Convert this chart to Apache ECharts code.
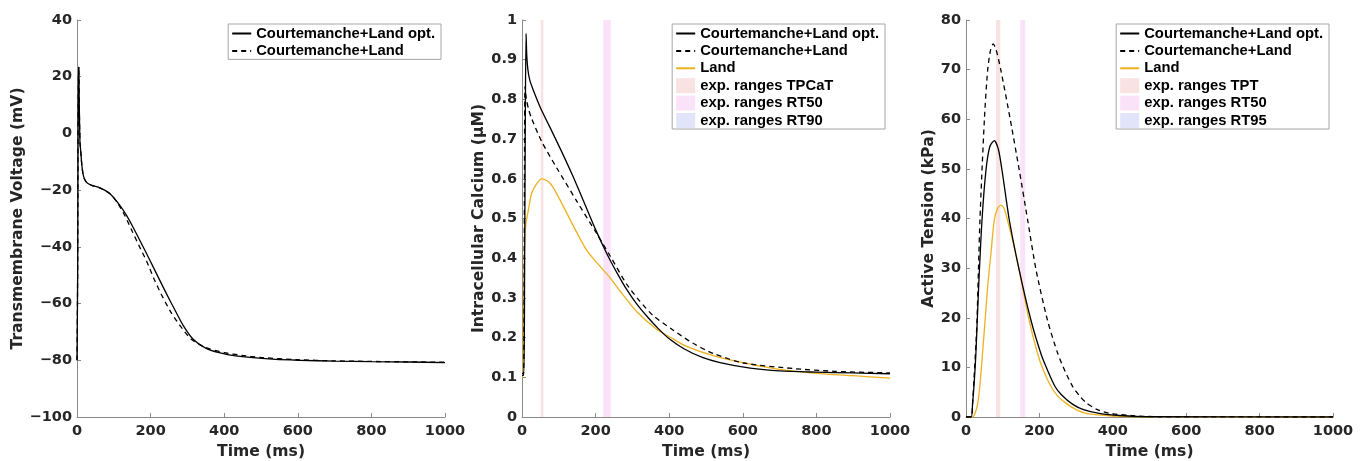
<!DOCTYPE html>
<html><head><meta charset="utf-8">
<script src="https://cdn.jsdelivr.net/npm/echarts@6/dist/echarts.min.js"></script>
<style>html,body{margin:0;padding:0;background:#fff;overflow:hidden}#c{width:1368px;height:461px}</style>
</head><body><div id="c"></div>
<script>
// ---------- Panel 1: Transmembrane voltage (mV) ----------
const vOptT = [0, 1, 2, 3, 4, 5, 6, 8, 10, 13, 16, 20, 27, 40, 62, 89, 116, 135, 152, 175, 198, 220, 243, 265, 288, 315, 352, 406, 470, 540, 606, 700, 800, 900, 1000];
const vOptV = [-80, -80, -45, 5, 20, 23.5, 12, -3, -6, -11, -14, -16, -17.4, -18.3, -19.2, -21.2, -25.3, -29, -33, -38.8, -44.7, -50.5, -56.5, -62, -67.6, -72.5, -75.9, -77.9, -79, -79.7, -80, -80.3, -80.5, -80.6, -80.8];
const vBaseT = [0, 1, 2, 3, 4, 5, 6, 8, 10, 13, 16, 20, 27, 40, 62, 89, 110, 130, 150, 170, 189, 210, 230, 255, 279, 310, 350, 400, 450, 500, 600, 700, 800, 1000];
const vBaseV = [-80, -80, -45, 5, 20, 23.5, 12, -3, -6, -11, -14, -16, -17.4, -18.3, -19.2, -21.2, -24.5, -29, -34.5, -40, -45, -51.5, -57, -63, -67.6, -72.5, -75.5, -77.3, -78.3, -79, -79.8, -80.2, -80.4, -80.7];

// ---------- Panel 2: Intracellular calcium (uM) ----------
const caOptT = [0, 5, 7, 9, 11, 13, 16, 21, 30, 51, 80, 110, 140, 170, 200, 234, 260, 284, 310, 343, 371, 400, 440, 490, 538, 620, 700, 800, 900, 1000];
const caOptV = [0.11, 0.11, 0.35, 0.75, 0.966, 0.91, 0.875, 0.849, 0.825, 0.777, 0.722, 0.664, 0.603, 0.538, 0.472, 0.405, 0.36, 0.322, 0.287, 0.25, 0.222, 0.197, 0.172, 0.15, 0.137, 0.123, 0.116, 0.113, 0.111, 0.109];
const caBaseT = [0, 4, 6, 8.2, 12, 18, 26, 54, 94, 148, 203, 240, 284, 320, 357, 412, 466, 520, 602, 738, 850, 1000];
const caBaseV = [0.105, 0.105, 0.4, 0.832, 0.8, 0.775, 0.752, 0.693, 0.628, 0.545, 0.462, 0.405, 0.335, 0.292, 0.255, 0.218, 0.185, 0.16, 0.136, 0.122, 0.115, 0.111];
const caLandT = [0, 2, 4, 6, 8, 11, 15, 20, 26, 40, 54, 70, 85, 111, 139, 176, 221, 240, 266, 312, 366, 412, 447, 529, 620, 700, 800, 900, 1000];
const caLandV = [0.1, 0.1, 0.25, 0.4, 0.46, 0.49, 0.51, 0.535, 0.563, 0.588, 0.6, 0.594, 0.578, 0.533, 0.482, 0.42, 0.37, 0.35, 0.318, 0.265, 0.221, 0.196, 0.178, 0.152, 0.133, 0.12, 0.11, 0.104, 0.098];

// ---------- Panel 3: Active tension (kPa) ----------
const taOptT = [0, 14, 18, 22, 27, 34.5, 43.6, 54.5, 65, 77, 88, 98, 118, 145, 177, 204, 220, 243, 260, 290, 320, 363, 420, 500, 1000];
const taOptV = [0, 0, 2.8, 6.5, 12.8, 26.3, 39.7, 49.8, 54.5, 55.7, 54, 49.8, 39.7, 29.6, 19.5, 12.8, 9.8, 6.1, 4.5, 2.6, 1.5, 0.74, 0.3, 0.05, 0];
const taBaseT = [0, 14, 18, 22, 27, 30, 38, 50, 59, 67, 74, 82, 95, 121, 145, 168, 191, 222, 250, 270, 291, 310, 327, 355, 390, 450, 520, 1000];
const taBaseV = [0, 0, 2.8, 8, 14.5, 19.5, 39.7, 59.8, 69.9, 74, 75.2, 74, 69.9, 59.8, 49.8, 39.7, 29.6, 19.5, 12.8, 9.2, 6.1, 4.2, 2.9, 1.6, 0.74, 0.3, 0.05, 0];
const taLandT = [0, 18, 25, 32, 38, 45, 52, 59, 68, 77, 86, 95, 104, 113, 129, 145, 172, 195, 212, 232, 250, 272, 300, 327, 400, 480, 1000];
const taLandV = [0, 0, 0.8, 2.8, 6.5, 12.8, 19.5, 26.3, 33, 39.7, 42, 42.7, 42, 39.7, 35, 29.6, 19.5, 12.8, 9.2, 6.1, 4.2, 2.8, 1.5, 0.74, 0.2, 0.05, 0];

// ---------- Experimental ranges (ms) ----------
const caTPCaT = [51, 58];
const caRT50 = [221, 241];
const taTPT = [82, 93.5];
const taRT50 = [148, 161.5];

const names = {opt: 'Courtemanche+Land opt.', base: 'Courtemanche+Land', land: 'Land'};
const FONT = "'DejaVu Sans', Verdana, sans-serif";
const LFONT = "'Liberation Sans', Arial, Helvetica, sans-serif";
const TXT = '#262626';
const AX = '#8a8a8a';
const ORANGE = '#EDB120';
const C_TP = '#f9e2e2', C_RT50 = '#fae2f8', C_RT90 = '#e2e4fa';

const zip = (t, v) => t.map((x, i) => [x, v[i]]);

const grids = [
  {left: 77, top: 20, width: 368, height: 397, outerBoundsMode: 'none', containLabel: false},
  {left: 522, top: 20, width: 368, height: 397, outerBoundsMode: 'none', containLabel: false},
  {left: 966, top: 20, width: 367, height: 397, outerBoundsMode: 'none', containLabel: false}
];

function xAx(i) {
  return {
    type: 'value', gridIndex: i, min: 0, max: 1000, interval: 200,
    name: 'Time (ms)', nameLocation: 'middle', nameGap: 26,
    nameTextStyle: {fontSize: 15.6, fontWeight: 'bold', color: TXT, fontFamily: FONT},
    axisLine: {show: true, onZero: false, lineStyle: {color: AX, width: 1}},
    axisTick: {show: true, inside: true, length: 4, lineStyle: {color: AX}},
    axisLabel: {fontSize: 14.5, fontWeight: 'bold', color: TXT, fontFamily: FONT, margin: 7,
      formatter: v => String(v)},
    splitLine: {show: false}
  };
}
function yAx(i, min, max, interval, name, gap) {
  return {
    type: 'value', gridIndex: i, min, max, interval,
    name, nameLocation: 'middle', nameGap: gap,
    nameTextStyle: {fontSize: 15.6, fontWeight: 'bold', color: TXT, fontFamily: FONT},
    axisLine: {show: true, onZero: false, lineStyle: {color: AX, width: 1}},
    axisTick: {show: true, inside: true, length: 4, lineStyle: {color: AX}},
    axisLabel: {fontSize: 14.5, fontWeight: 'bold', color: TXT, fontFamily: FONT, margin: 5,
      formatter: v => String(v).replace('-', '\u2212')},
    splitLine: {show: false}
  };
}

function lineSeries(name, i, t, v, color, dashed) {
  return {
    type: 'line', name, xAxisIndex: i, yAxisIndex: i, data: zip(t, v),
    showSymbol: false, symbol: 'circle', smooth: 0.25, z: 3,
    itemStyle: {color},
    lineStyle: {color, width: 1.3, type: dashed ? [5, 4] : 'solid'},
    emphasis: {disabled: true}, animation: false
  };
}
function bandSeries(name, i, range, color) {
  return {
    type: 'line', name, xAxisIndex: i, yAxisIndex: i, data: [], z: 1,
    itemStyle: {color}, lineStyle: {color},
    markArea: range ? {silent: true, itemStyle: {color, opacity: 1}, data: [[{xAxis: range[0]}, {xAxis: range[1]}]]} : undefined,
    animation: false
  };
}

function legend(items, right) {
  return {
    orient: 'vertical', right, top: 24, itemWidth: 19, itemHeight: 15, itemGap: 2.4,
    padding: [2, 6, 1, 3], borderColor: '#a6a6a6', borderWidth: 1, backgroundColor: '#fff',
    selectedMode: false,
    textStyle: {fontSize: 14.8, fontWeight: 'bold', color: '#000', fontFamily: LFONT, lineHeight: 15},
    data: items.map(([n, kind]) => kind === 'band' ? {name: n, icon: 'rect'} : {name: n, itemStyle: {opacity: 0}})
  };
}

const option = {
  backgroundColor: '#fff',
  animation: false,
  grid: grids,
  xAxis: [xAx(0), xAx(1), xAx(2)],
  yAxis: [
    yAx(0, -100, 40, 20, 'Transmembrane Voltage (mV)', 41),
    yAx(1, 0, 1, 0.1, 'Intracellular Calcium (\u03bcM)', 28),
    yAx(2, 0, 80, 10, 'Active Tension (kPa)', 22)
  ],
  legend: [
    legend([[names.opt, 'line'], [names.base, 'line']], 927),
    legend([[names.opt, 'line'], [names.base, 'line'], [names.land, 'line'],
            ['exp. ranges TPCaT', 'band'], ['exp. ranges RT50', 'band'], ['exp. ranges RT90', 'band']], 483),
    legend([[names.opt, 'line'], [names.base, 'line'], [names.land, 'line'],
            ['exp. ranges TPT', 'band'], ['exp. ranges RT50', 'band'], ['exp. ranges RT95', 'band']], 39)
  ],
  series: [
    lineSeries(names.base, 0, vBaseT, vBaseV, '#000', true),
    lineSeries(names.opt, 0, vOptT, vOptV, '#000', false),

    bandSeries('exp. ranges TPCaT', 1, caTPCaT, C_TP),
    bandSeries('exp. ranges RT50', 1, caRT50, C_RT50),
    bandSeries('exp. ranges RT90', 1, null, C_RT90),
    lineSeries(names.land, 1, caLandT, caLandV, ORANGE, false),
    lineSeries(names.base, 1, caBaseT, caBaseV, '#000', true),
    lineSeries(names.opt, 1, caOptT, caOptV, '#000', false),

    bandSeries('exp. ranges TPT', 2, taTPT, C_TP),
    bandSeries('exp. ranges RT50', 2, taRT50, C_RT50),
    bandSeries('exp. ranges RT95', 2, null, C_RT90),
    lineSeries(names.land, 2, taLandT, taLandV, ORANGE, false),
    lineSeries(names.base, 2, taBaseT, taBaseV, '#000', true),
    lineSeries(names.opt, 2, taOptT, taOptV, '#000', false)
  ]
};

const chart = echarts.init(document.getElementById('c'), null, {renderer: 'canvas'});
chart.setOption(option);
</script>
</body></html>
